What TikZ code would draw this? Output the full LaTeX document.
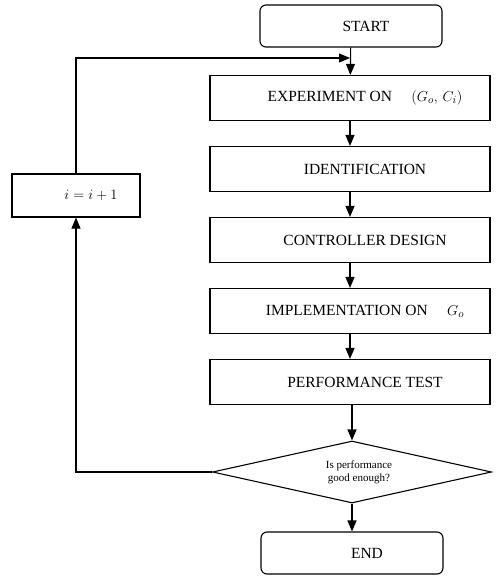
\documentclass[tikz,border=0pt]{standalone}
\usepackage{fontspec}
\setmainfont{Liberation Serif}
\usetikzlibrary{shapes.geometric,arrows.meta}

\begin{document}
\begin{tikzpicture}[x=1pt,y=-1pt,
  block/.style={shape=rectangle,draw=black,line width=1.1pt,minimum width=280pt,minimum height=45pt,inner sep=0pt,font=\fontsize{15.5}{18}\selectfont,execute at begin node=\hspace*{30pt}},
  term/.style={block,rounded corners=6pt,minimum width=182pt,minimum height=42pt},
  decide/.style={shape=diamond,draw=black,line width=1.1pt,minimum width=279pt,minimum height=62pt,aspect=4.5,inner sep=0pt,align=center,font=\fontsize{11}{13}\selectfont},
  flow/.style={-{Triangle[length=11pt,width=9pt]},draw=black,line width=1.1pt}]
\useasboundingbox (0,0) rectangle (497,576);

\node[term] (start) at (351,26) {START};
\node[block] (exper) at (350,98) {EXPERIMENT ON\quad\ $(G_o,\,C_i)$};
\node[block] (ident) at (350,169) {IDENTIFICATION};
\node[block] (design) at (350,240) {CONTROLLER DESIGN};
\node[block] (implem) at (350,311) {IMPLEMENTATION ON\quad\ $G_o$};
\node[block] (perftest) at (350,382) {PERFORMANCE TEST};
\node[decide] (check) at (352,472) {\hspace*{14pt}Is performance\\\hspace*{14pt}good enough?};
\node[term] (stop) at (352,553) {END};
\node[block,minimum width=128pt,minimum height=43pt] (incr) at (76,195.5) {$i = i + 1$};
\coordinate (join) at (350,58);

\path [flow] (start) edge (exper);
\path [flow] (exper) edge (ident);
\path [flow] (ident) edge (design);
\path [flow] (design) edge (implem);
\path [flow] (implem) edge (perftest);
\draw [flow] (perftest.south -| check.north) -- (check.north);
\path [flow] (check) edge (stop);
\draw [flow] (check.west) -- (check.west -| incr) -- (incr.south);
\draw [flow] (incr.north) |- (join);
\end{tikzpicture}
\end{document}
